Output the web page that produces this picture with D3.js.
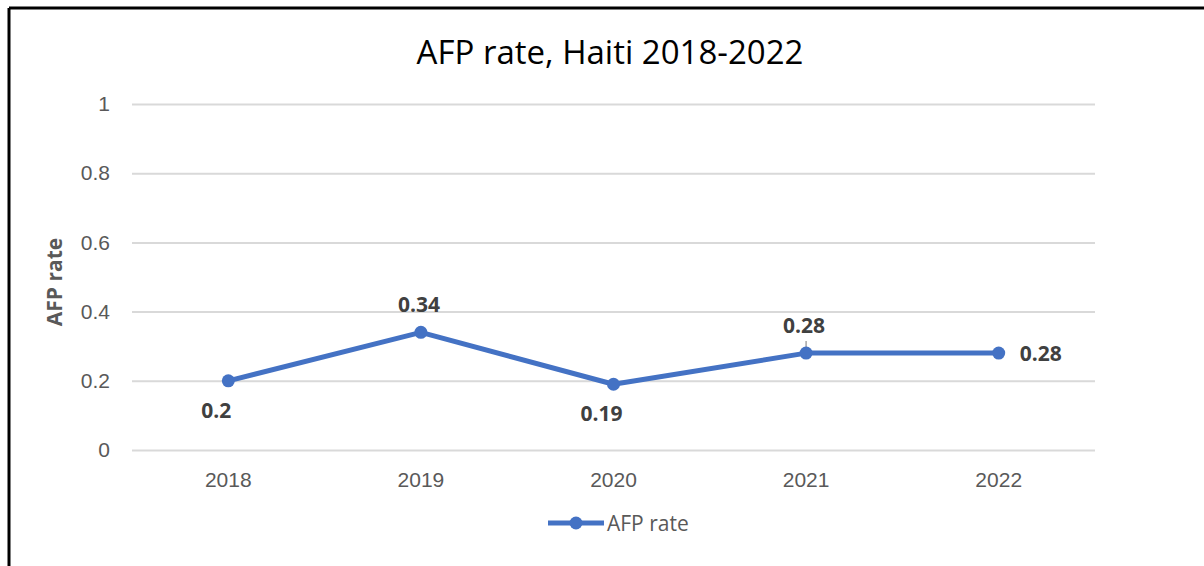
<!DOCTYPE html>
<html>
<head>
<meta charset="utf-8">
<script src="https://cdn.jsdelivr.net/npm/d3@7"></script>
<style>
  html, body { margin: 0; padding: 0; background: #fff; }
  svg { display: block; font-family: "Open Sans", "Liberation Sans", sans-serif; }
</style>
</head>
<body>
<svg id="chart" width="1204" height="566"></svg>
<script>
const categories = ["2018", "2019", "2020", "2021", "2022"];
const afpRate = [0.2, 0.34, 0.19, 0.28, 0.28];
const yTicks = [0, 0.2, 0.4, 0.6, 0.8, 1];
const labelPos = ["below", "above", "below", "above", "right"];
const seriesName = "AFP rate";
const chartTitle = "AFP rate, Haiti 2018-2022";
const yTitle = "AFP rate";

const svg = d3.select("#chart");
const W = 1204, H = 566;
const plot = { left: 132, right: 1095, top: 104, bottom: 450 };
const blue = "#4472C4";

// border (top and left)
svg.append("line").attr("x1", 9).attr("x2", W).attr("y1", 8).attr("y2", 8)
  .attr("stroke", "#000").attr("stroke-width", 3);
svg.append("line").attr("x1", 9).attr("x2", 9).attr("y1", 8).attr("y2", H)
  .attr("stroke", "#000").attr("stroke-width", 3);

const x = d3.scaleBand().domain(categories).range([plot.left, plot.right]);
const y = d3.scaleLinear().domain([0, 1]).range([plot.bottom, plot.top]);
const cx = d => x(d) + x.bandwidth() / 2;

// gridlines
const yAxis = d3.axisLeft(y).tickValues(yTicks).tickFormat(d3.format("~g"))
  .tickSize(-(plot.right - plot.left)).tickPadding(22);
const gy = svg.append("g").attr("transform", `translate(${plot.left},0)`).call(yAxis);
gy.select(".domain").remove();
gy.selectAll(".tick line").attr("stroke", "#d9d9d9").attr("stroke-width", 2);
gy.selectAll(".tick text").attr("fill", "#595959").attr("font-size", 21);

// x axis labels
const xAxis = d3.axisBottom(x).tickSize(0).tickPadding(22);
const gx = svg.append("g").attr("transform", `translate(0,${plot.bottom})`).call(xAxis);
gx.select(".domain").remove();
gx.selectAll(".tick text").attr("fill", "#595959").attr("font-size", 21);

// title
svg.append("text").attr("x", 610).attr("y", 64).attr("text-anchor", "middle")
  .attr("font-size", 33).attr("fill", "#000").text(chartTitle);

// y title
svg.append("text").attr("transform", `translate(62,282) rotate(-90)`)
  .attr("text-anchor", "middle").attr("font-size", 21).attr("font-weight", "bold")
  .attr("fill", "#595959").text(yTitle);

// line
const line = d3.line().x((d, i) => cx(categories[i])).y(d => y(d));
svg.append("path").datum(afpRate).attr("d", line).attr("fill", "none")
  .attr("stroke", blue).attr("stroke-width", 5).attr("stroke-linejoin", "round");

// leader line artifact at 2021
svg.append("line").attr("x1", cx("2021")).attr("x2", cx("2021"))
  .attr("y1", y(afpRate[3]) - 12).attr("y2", y(afpRate[3]))
  .attr("stroke", "#a6a6a6").attr("stroke-width", 1.5);

svg.selectAll("circle.pt").data(afpRate).enter().append("circle").attr("class", "pt")
  .attr("cx", (d, i) => cx(categories[i])).attr("cy", d => y(d)).attr("r", 6.5)
  .attr("fill", blue);

// data labels
svg.selectAll("text.lbl").data(afpRate).enter().append("text").attr("class", "lbl")
  .attr("x", (d, i) => {
    const p = labelPos[i];
    if (p === "right") return cx(categories[i]) + 21;
    if (p === "below") return cx(categories[i]) - 12;
    return cx(categories[i]) - 2;
  })
  .attr("y", (d, i) => {
    const p = labelPos[i];
    if (p === "below") return y(d) + 37;
    if (p === "above") return y(d) - 20;
    return y(d) + 8;
  })
  .attr("text-anchor", (d, i) => labelPos[i] === "right" ? "start" : "middle")
  .attr("font-size", 21).attr("font-weight", "bold").attr("fill", "#404040")
  .text(d => d3.format("~g")(d));

// legend
const lg = svg.append("g");
lg.append("line").attr("x1", 548).attr("x2", 604).attr("y1", 523).attr("y2", 523)
  .attr("stroke", blue).attr("stroke-width", 5);
lg.append("circle").attr("cx", 576).attr("cy", 523).attr("r", 6.5).attr("fill", blue);
lg.append("text").attr("x", 607).attr("y", 531).attr("font-size", 21)
  .attr("fill", "#595959").text(seriesName);
</script>
</body>
</html>
